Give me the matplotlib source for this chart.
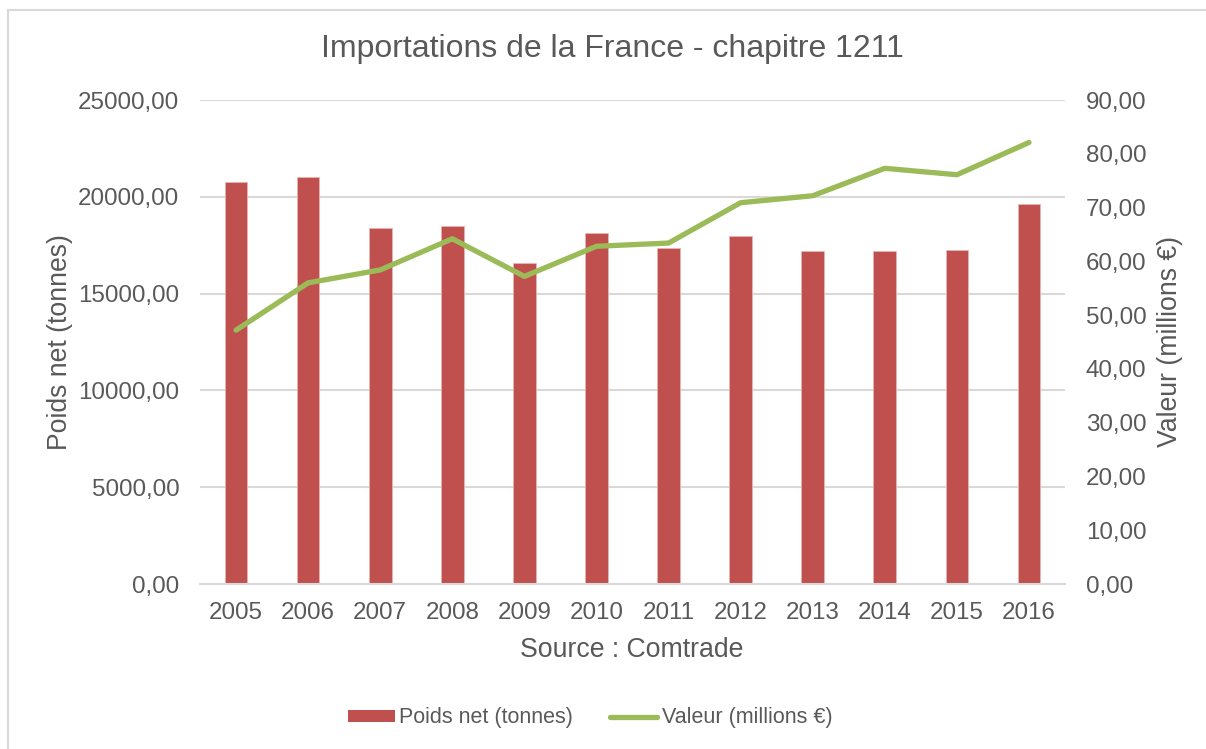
import matplotlib
matplotlib.use("Agg")
import matplotlib.pyplot as plt
from matplotlib.patches import Rectangle
from matplotlib.lines import Line2D
from matplotlib.ticker import FuncFormatter, MultipleLocator

years = ["2005", "2006", "2007", "2008", "2009", "2010", "2011", "2012", "2013", "2014", "2015", "2016"]
poids_net = [20740, 21030, 18400, 18500, 16600, 18130, 17370, 18000, 17200, 17200, 17270, 19620]
valeur = [47.2, 56.0, 58.4, 64.2, 57.2, 62.8, 63.4, 70.9, 72.2, 77.3, 76.1, 82.1]

title = "Importations de la France - chapitre 1211"
ylabel_left = "Poids net (tonnes)"
ylabel_right = "Valeur (millions €)"
xlabel = "Source : Comtrade"

plt.rcParams['font.family'] = ['Liberation Sans', 'DejaVu Sans']
TXT = "#595959"
GRID = "#D9D9D9"
BAR = "#C0504D"
LINE = "#9BBB59"
FS = 17.4
FS_LAB = 19.2
FS_LEG = 15.5

W, H = 1206, 749
fig = plt.figure(figsize=(W / 100, H / 100), dpi=100)
fig.patch.set_facecolor("white")

# outer chart frame
fig.add_artist(Rectangle((8 / W, -0.05), 1.2, 1 - 10 / H + 0.05, transform=fig.transFigure,
                         fill=False, edgecolor=GRID, linewidth=1.5))

ax = fig.add_axes([200 / W, 165 / H, 865 / W, 484 / H])
x = list(range(len(years)))
ax.bar(x, poids_net, width=0.315, color=BAR, edgecolor="#E8B4B3", linewidth=0.6, zorder=2)
ax.set_xlim(-0.5, len(years) - 0.5)
ax.set_ylim(0, 25000)
ax.yaxis.set_major_locator(MultipleLocator(5000))
ax.yaxis.set_major_formatter(FuncFormatter(lambda v, p: f"{v:.2f}".replace(".", ",")))
ax.grid(axis="y", color=GRID, linewidth=1.5, zorder=0)
ax.set_axisbelow(True)
for s in ["top", "right", "left"]:
    ax.spines[s].set_visible(False)
ax.spines["bottom"].set_color(GRID)
ax.spines["bottom"].set_linewidth(1.5)
ax.set_xticks(x)
ax.set_xticklabels(years)
ax.tick_params(axis="x", length=0, pad=13, labelsize=FS, colors=TXT)
ax.tick_params(axis="y", length=0, pad=15, labelsize=FS, colors=TXT)

ax2 = ax.twinx()
ax2.plot(x, valeur, color=LINE, linewidth=3.8, solid_capstyle="round", solid_joinstyle="round", zorder=3)
ax2.set_ylim(0, 90)
ax2.yaxis.set_major_locator(MultipleLocator(10))
ax2.yaxis.set_major_formatter(FuncFormatter(lambda v, p: f"{v:.2f}".replace(".", ",")))
for s in ["top", "right", "left", "bottom"]:
    ax2.spines[s].set_visible(False)
ax2.tick_params(axis="y", length=0, pad=15, labelsize=FS, colors=TXT)

fig.text(612 / W, 1 - 49 / H, title, ha="center", va="center", fontsize=23, color=TXT)
fig.text(60 / W, 1 - 342 / H, ylabel_left, ha="center", va="center", rotation=90, fontsize=FS_LAB, color=TXT)
fig.text(1170 / W, 1 - 342 / H, ylabel_right, ha="center", va="center", rotation=90, fontsize=FS_LAB, color=TXT)
fig.text(632 / W, 1 - 650 / H, xlabel, ha="center", va="center", fontsize=FS_LAB, color=TXT)

handles = [Rectangle((0, 0), 1, 1, facecolor=BAR, edgecolor="none"),
           Line2D([0], [0], color=LINE, linewidth=3.8, solid_capstyle="round")]
leg = fig.legend(handles, [ylabel_left, ylabel_right], loc="center", bbox_to_anchor=(590 / W, 1 - 718 / H),
                 ncol=2, frameon=False, fontsize=FS_LEG, handlelength=2.2, handletextpad=0.2,
                 columnspacing=1.7, handleheight=0.5)
for t in leg.get_texts():
    t.set_color(TXT)

fig.savefig("out.png", dpi=100, facecolor="white")
